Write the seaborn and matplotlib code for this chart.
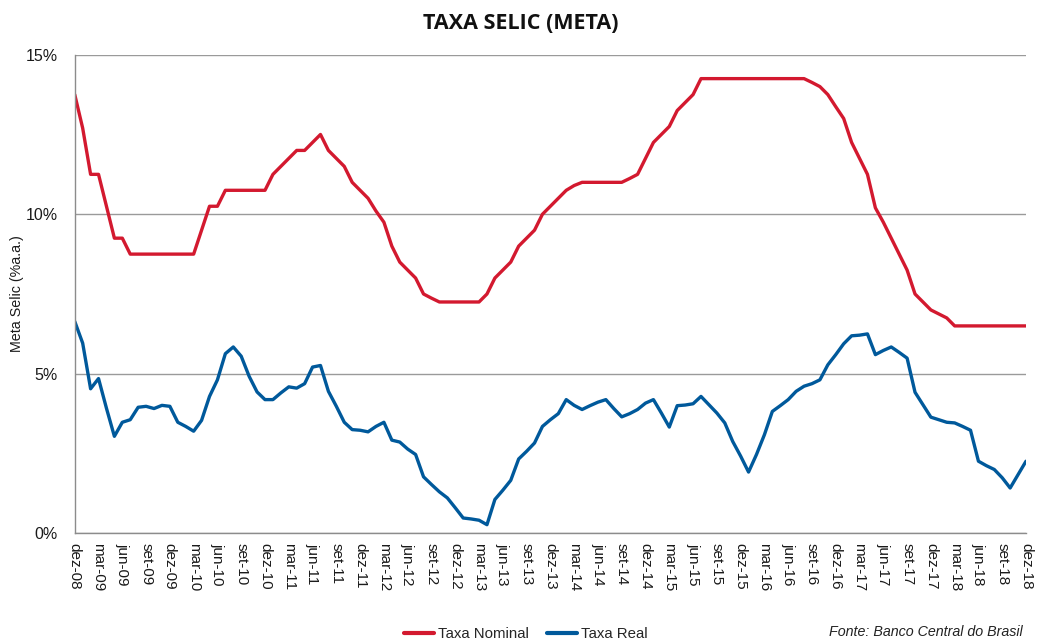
import matplotlib
matplotlib.use("Agg")
import matplotlib.pyplot as plt
from matplotlib.ticker import FuncFormatter, FixedLocator
import seaborn as sns
import pandas as pd
import numpy as np

# ---------------- data ----------------
tick_labels = ["dez-08", "mar-09", "jun-09", "set-09", "dez-09", "mar-10", "jun-10", "set-10",
               "dez-10", "mar-11", "jun-11", "set-11", "dez-11", "mar-12", "jun-12", "set-12",
               "dez-12", "mar-13", "jun-13", "set-13", "dez-13", "mar-14", "jun-14", "set-14",
               "dez-14", "mar-15", "jun-15", "set-15", "dez-15", "mar-16", "jun-16", "set-16",
               "dez-16", "mar-17", "jun-17", "set-17", "dez-17", "mar-18", "jun-18", "set-18",
               "dez-18"]

taxa_nominal = [13.75, 12.7, 11.25, 11.25, 10.25, 9.25, 9.25,
                8.75, 8.75, 8.75, 8.75, 8.75, 8.75, 8.75, 8.75, 8.75,
                9.5, 10.25, 10.25,
                10.75, 10.75, 10.75, 10.75, 10.75, 10.75,
                11.25, 11.5, 11.75, 12.0, 12.0, 12.25, 12.5, 12.0, 11.75, 11.5,
                11.0, 10.75, 10.5, 10.1, 9.75, 9.0, 8.5, 8.25, 8.0, 7.5, 7.37,
                7.25, 7.25, 7.25, 7.25, 7.25, 7.25,
                7.5, 8.0, 8.25, 8.5, 9.0, 9.25, 9.5, 10.0, 10.25, 10.5, 10.75, 10.9,
                11.0, 11.0, 11.0, 11.0, 11.0, 11.0,
                11.12, 11.25, 11.75, 12.25, 12.5, 12.75, 13.25, 13.5, 13.75,
                14.25, 14.25, 14.25, 14.25, 14.25, 14.25, 14.25, 14.25, 14.25, 14.25,
                14.25, 14.25, 14.25, 14.25,
                14.13, 14.0, 13.75, 13.37, 13.0, 12.25, 11.75, 11.25, 10.2, 9.75,
                9.25, 8.75, 8.25, 7.5, 7.25, 7.0, 6.875, 6.75,
                6.5, 6.5, 6.5, 6.5, 6.5, 6.5, 6.5, 6.5, 6.5, 6.5]

taxa_real = [6.64, 5.96, 4.53, 4.85, 3.92, 3.04, 3.48, 3.56, 3.95, 3.98,
             3.91, 4.01, 3.98, 3.48, 3.35, 3.2, 3.54, 4.29, 4.81, 5.63,
             5.84, 5.55, 4.92, 4.43, 4.19, 4.19, 4.40, 4.59, 4.55, 4.69,
             5.21, 5.26, 4.45, 3.98, 3.48, 3.25, 3.23, 3.18, 3.35, 3.48,
             2.92, 2.86, 2.64, 2.47, 1.77, 1.53, 1.30, 1.11, 0.80, 0.48,
             0.45, 0.41, 0.27, 1.06, 1.35, 1.66, 2.33, 2.57, 2.83, 3.35,
             3.56, 3.75, 4.19, 4.01, 3.88, 4.00, 4.11, 4.19, 3.91, 3.65,
             3.75, 3.88, 4.08, 4.19, 3.77, 3.33, 4.0, 4.02, 4.06, 4.29,
             4.03, 3.77, 3.46, 2.88, 2.42, 1.92, 2.47, 3.09, 3.82, 4.0,
             4.19, 4.45, 4.61, 4.69, 4.81, 5.28, 5.60, 5.94, 6.19, 6.21,
             6.25, 5.60, 5.73, 5.84, 5.67, 5.49, 4.42, 4.03, 3.64, 3.56,
             3.48, 3.46, 3.35, 3.23, 2.26, 2.12, 2.0, 1.74, 1.42, 1.84, 2.26]

series_names = ["Taxa Nominal", "Taxa Real"]
colors = ["#D3192F", "#00599B"]

# ---------------- figure ----------------
sns.set_theme(style="white")
plt.rcParams["font.family"] = ["Liberation Sans", "DejaVu Sans"]

n = len(taxa_nominal)
month_idx = np.arange(n)
df = pd.DataFrame({
    "mes": np.concatenate([month_idx, month_idx]),
    "valor": np.concatenate([taxa_nominal, taxa_real]),
    "serie": [series_names[0]] * n + [series_names[1]] * n,
})

fig = plt.figure(figsize=(10.41, 6.39), dpi=100)
ax = fig.add_axes([0.0718, 0.1654, 0.9138, 0.749])

sns.lineplot(data=df, x="mes", y="valor", hue="serie", hue_order=series_names,
             palette=colors, linewidth=2.4, ax=ax, legend=False)

ax.set_xlim(0, n - 1)
ax.set_ylim(0, 15)
ax.yaxis.set_major_locator(FixedLocator([0, 5, 10, 15]))
ax.yaxis.set_major_formatter(FuncFormatter(lambda v, p: f"{v:.0f}%"))
ax.set_xticks(np.arange(0, n, 3))
ax.set_xticklabels(tick_labels, rotation=270, ha="center", va="top", fontsize=11, color="#1a1a1a")
for lab in ax.get_yticklabels():
    lab.set_fontsize(11.5)
    lab.set_color("#1a1a1a")

ax.grid(axis="y", color="#9a9a9a", linewidth=1.0)
ax.grid(axis="x", visible=False)
ax.set_axisbelow(True)
for s in ["top", "right"]:
    ax.spines[s].set_visible(False)
for s in ["left", "bottom"]:
    ax.spines[s].set_color("#8c8c8c")
    ax.spines[s].set_linewidth(1.0)
ax.tick_params(axis="both", which="major", direction="out", length=4, width=1.0,
               color="#8c8c8c", pad=3)
ax.tick_params(axis="y", pad=8)

ax.set_xlabel("")
ax.set_ylabel("Meta Selic (%a.a.)", fontsize=10.3, color="#1a1a1a")
ax.yaxis.set_label_coords(-0.0533, 0.5)

fig.text(0.5, 0.964, "TAXA SELIC (META)", ha="center", va="center",
         fontsize=15.5, fontweight="bold", family=["Open Sans", "DejaVu Sans"], color="#111111")

handles = [plt.Line2D([], [], color=c, linewidth=3) for c in colors]
fig.legend(handles, series_names, loc="center left", bbox_to_anchor=(0.3756, 0.008),
           ncol=2, frameon=False, handlelength=2.0, handletextpad=0.25,
           columnspacing=1.2, prop={"family": ["Liberation Sans", "DejaVu Sans"], "size": 10.8})

fig.text(0.982, 0.011, "Fonte: Banco Central do Brasil", ha="right", va="center",
         fontsize=10.3, style="italic", color="#222222")

fig.savefig("out.png", dpi=100)
